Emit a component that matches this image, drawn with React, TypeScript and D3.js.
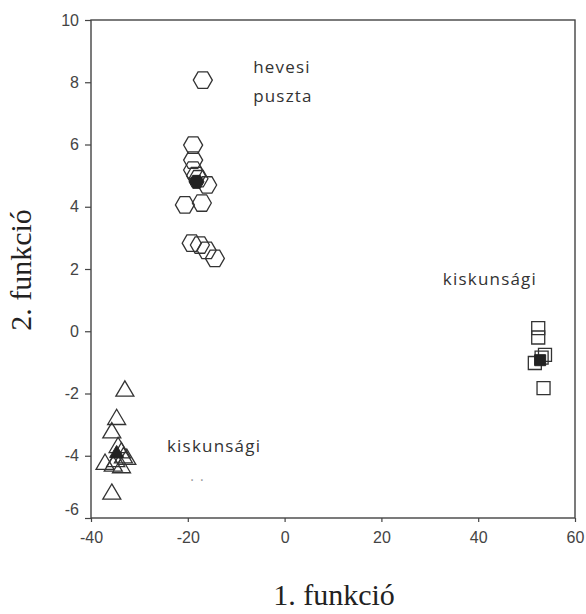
import React, { useEffect, useRef } from "react";
import * as d3 from "d3";

// group 1: "hevesi puszta" (hexagons)
const hevesiX = [-16.9, -18.9, -18.9, -18.9, -18.3, -17.8, -16.0, -20.6, -17.1, -19.2, -17.5, -16.1, -14.4];
const hevesiY = [8.07, 5.98, 5.5, 5.18, 5.0, 4.9, 4.7, 4.06, 4.12, 2.83, 2.77, 2.6, 2.34];
const hevesiCentroid = [-18.2, 4.8];

// group 2: "kiskunsági" left (triangles)
const triX = [-33.0, -34.7, -35.7, -34.4, -33.7, -33.3, -37.1, -35.4, -33.7, -32.6, -34.9, -35.7];
const triY = [-1.89, -2.8, -3.23, -3.7, -3.87, -4.03, -4.24, -4.3, -4.35, -4.08, -4.15, -5.2];
const triCentroid = [-34.7, -3.9];

// group 3: "kiskunsági" right (squares)
const sqX = [52.4, 52.4, 53.8, 51.7, 53.1, 53.5];
const sqY = [0.1, -0.2, -0.76, -1.02, -0.85, -1.83];
const sqCentroid = [52.8, -0.93];

const xTicks = [-40, -20, 0, 20, 40, 60];
const yTicks = [-6, -4, -2, 0, 2, 4, 6, 8, 10];

const labels = [
  { text: "hevesi", x: -6.5, y: 8.3 },
  { text: "puszta", x: -6.5, y: 7.37 },
  { text: "kiskunsági", x: 32.7, y: 1.49 },
  { text: "kiskunsági", x: -24.3, y: -3.88 },
];

const W = 586;
const H = 614;

const App = () => {
  const svgRef = useRef<SVGSVGElement>(null);

  useEffect(() => {
    const svg = d3.select(svgRef.current);
    svg.selectAll("*").remove();

    const x = d3.scaleLinear().domain([-40, 60]).range([91, 575]);
    const y = d3.scaleLinear().domain([-6, 10]).range([518, 20]);

    const ink = "#333";

    // frame
    svg
      .append("rect")
      .attr("x", x(-40))
      .attr("y", y(10))
      .attr("width", x(60) - x(-40))
      .attr("height", y(-6) - y(10))
      .attr("fill", "none")
      .attr("stroke", "#444")
      .attr("stroke-width", 1.4);

    const xAxis = svg
      .append("g")
      .attr("transform", `translate(0,${y(-6)})`)
      .call(d3.axisBottom(x).tickValues(xTicks).tickSize(4).tickPadding(9.5).tickFormat(d3.format("d")));
    const yAxis = svg
      .append("g")
      .attr("transform", `translate(${x(-40)},0)`)
      .call(d3.axisLeft(y).tickValues(yTicks).tickSize(6).tickPadding(6).tickFormat(d3.format("d")));

    [xAxis, yAxis].forEach((g) => {
      g.select(".domain").remove();
      g.selectAll("line").attr("stroke", "#444").attr("stroke-width", 1.2);
      g.selectAll("text")
        .attr("fill", "#444")
        .style("font-family", "'Liberation Sans', Arial, sans-serif")
        .style("font-size", "16px");
    });
    // plain hyphen for negatives, as in the original
    xAxis.selectAll("text").text((d: any) => String(d));
    yAxis.selectAll("text").text((d: any) => String(d));
    // bottom y label sits a bit higher, as in the original
    yAxis
      .selectAll<SVGTextElement, number>("text")
      .filter((d) => d === -6)
      .attr("y", -9);

    const plot = svg.append("g");

    const hexPath = (r: number) => {
      const pts = d3.range(6).map((i) => {
        const a = (Math.PI / 3) * i;
        return [r * Math.cos(a), r * Math.sin(a)];
      });
      return "M" + pts.map((p) => p.join(",")).join("L") + "Z";
    };
    const triPath = (s: number) => {
      const h = s * 0.85;
      return `M0,${-h * 0.6}L${s / 2},${h * 0.4}L${-s / 2},${h * 0.4}Z`;
    };
    const sqPath = (s: number) => `M${-s / 2},${-s / 2}h${s}v${s}h${-s}Z`;

    const drawGroup = (xs: number[], ys: number[], d: string) => {
      plot
        .append("g")
        .selectAll("path")
        .data(xs)
        .join("path")
        .attr("transform", (v, i) => `translate(${x(v)},${y(ys[i])})`)
        .attr("d", d)
        .attr("fill", "none")
        .attr("stroke", ink)
        .attr("stroke-width", 1.3);
    };

    drawGroup(hevesiX, hevesiY, hexPath(9.5));
    drawGroup(triX, triY, triPath(18));
    drawGroup(sqX, sqY, sqPath(13));

    // group centroids (filled)
    const centroids: [number[], string][] = [
      [hevesiCentroid, hexPath(7.5)],
      [triCentroid, triPath(14)],
      [sqCentroid, sqPath(11)],
    ];
    centroids.forEach(([c, d]) => {
      plot
        .append("path")
        .attr("transform", `translate(${x(c[0])},${y(c[1])})`)
        .attr("d", d)
        .attr("fill", "#222")
        .attr("stroke", "#222")
        .attr("stroke-width", 1);
    });

    // group labels
    svg
      .append("g")
      .selectAll("text")
      .data(labels)
      .join("text")
      .attr("x", (d) => x(d.x))
      .attr("y", (d) => y(d.y))
      .attr("fill", ink)
      .style("font-family", "'Open Sans', 'Noto Sans', sans-serif")
      .style("font-size", "17px")
      .style("letter-spacing", "1.2px")
      .text((d) => d.text);

    // faint dots under the left label (scan residue)
    svg
      .append("text")
      .attr("x", x(-19.5))
      .attr("y", y(-4.95))
      .attr("fill", "#999")
      .style("font-family", "'Open Sans', sans-serif")
      .style("font-size", "14px")
      .style("letter-spacing", "6px")
      .text("··");

    // axis titles
    svg
      .append("text")
      .attr("x", 334)
      .attr("y", 605)
      .attr("text-anchor", "middle")
      .attr("fill", "#222")
      .style("font-family", "'Liberation Serif', 'Times New Roman', serif")
      .style("font-size", "30px")
      .text("1. funkció");

    svg
      .append("text")
      .attr("transform", "translate(31,270) rotate(-90)")
      .attr("text-anchor", "middle")
      .attr("fill", "#222")
      .style("font-family", "'Liberation Serif', 'Times New Roman', serif")
      .style("font-size", "30px")
      .text("2. funkció");
  }, []);

  return (
    <div>
      <svg
        ref={svgRef}
        width={W}
        height={H}
        style={{ position: "absolute", left: 0, top: 0, background: "#fff" }}
      ></svg>
    </div>
  );
};

export default App;
